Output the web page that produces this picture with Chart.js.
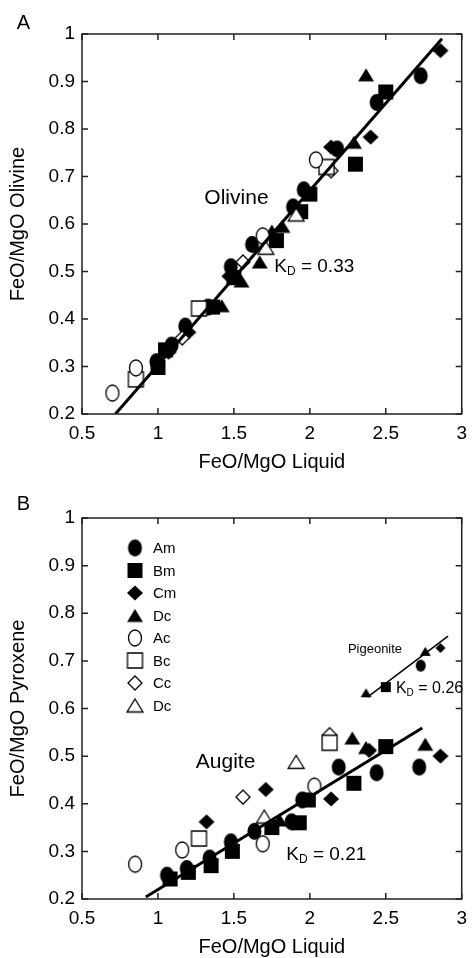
<!DOCTYPE html>
<html>
<head>
<meta charset="utf-8">
<script src="https://cdn.jsdelivr.net/npm/chart.js@4.4.0/dist/chart.umd.min.js"></script>
<style>
  html, body { margin: 0; padding: 0; background: #fff; }
  .panel { position: relative; width: 475px; height: 479px; }
</style>
</head>
<body>
<div class="panel"><canvas id="chartA"></canvas></div>
<div class="panel"><canvas id="chartB"></canvas></div>
<script>
// Axis ticks
const xTickValues = [0.5, 1, 1.5, 2, 2.5, 3];
const xTickLabels = ['0.5', '1', '1.5', '2', '2.5', '3'];
const yTickValues = [0.2, 0.3, 0.4, 0.5, 0.6, 0.7, 0.8, 0.9, 1];
const yTickLabels = ['0.2', '0.3', '0.4', '0.5', '0.6', '0.7', '0.8', '0.9', '1'];

// Legend entries (filled = melt, open = crystal)
const legendNames = ['Am', 'Bm', 'Cm', 'Dc', 'Ac', 'Bc', 'Cc', 'Dc'];

// Panel A: olivine, [FeO/MgO liquid, FeO/MgO olivine]
const oliAm = [[0.99, 0.31], [1.09, 0.345], [1.18, 0.385], [1.33, 0.425], [1.48, 0.51], [1.62, 0.557], [1.89, 0.636], [1.96, 0.672], [2.18, 0.758], [2.44, 0.856], [2.73, 0.912]];
const oliBm = [[1.0, 0.298], [1.05, 0.335], [1.36, 0.425], [1.5, 0.487], [1.78, 0.565], [1.94, 0.626], [2.0, 0.663], [2.3, 0.726], [2.5, 0.878]];
const oliCm = [[1.07, 0.33], [1.2, 0.372], [1.47, 0.49], [2.14, 0.762], [2.4, 0.783], [2.86, 0.965]];
const oliDm = [[1.42, 0.428], [1.55, 0.48], [1.67, 0.52], [1.75, 0.585], [1.82, 0.595], [2.29, 0.772], [2.37, 0.914]];
const oliAc = [[0.7, 0.244], [0.855, 0.297], [1.69, 0.575], [2.04, 0.735]];
const oliBc = [[0.855, 0.273], [1.27, 0.422], [2.11, 0.72]];
const oliCc = [[1.16, 0.36], [1.56, 0.52], [2.14, 0.712]];
const oliDc = [[1.71, 0.55], [1.91, 0.62]];
const oliFitX = [0.72, 2.87];
const oliFitY = [0.2, 0.99];

// Panel B: augite, [FeO/MgO liquid, FeO/MgO pyroxene]
const augAm = [[1.06, 0.25], [1.19, 0.264], [1.34, 0.286], [1.48, 0.32], [1.635, 0.342], [1.88, 0.362], [1.95, 0.408], [2.19, 0.477], [2.44, 0.465], [2.72, 0.477]];
const augBm = [[1.08, 0.242], [1.2, 0.256], [1.35, 0.27], [1.49, 0.3], [1.75, 0.35], [1.93, 0.36], [1.99, 0.408], [2.29, 0.443], [2.5, 0.52]];
const augCm = [[1.32, 0.362], [1.71, 0.43], [2.14, 0.41], [2.39, 0.512], [2.86, 0.5]];
const augDm = [[1.8, 0.366], [2.28, 0.538], [2.37, 0.518], [2.76, 0.525]];
const augAc = [[0.85, 0.273], [1.16, 0.303], [1.69, 0.316], [2.03, 0.437]];
const augBc = [[1.27, 0.327], [2.13, 0.528]];
const augCc = [[1.56, 0.414], [2.13, 0.545]];
const augDc = [[1.7, 0.373], [1.91, 0.488]];
const augFitX = [0.92, 2.74];
const augFitY = [0.204, 0.559];

// Panel B: pigeonite
const pigAm = [[2.73, 0.69]];
const pigBm = [[2.5, 0.645]];
const pigCm = [[2.86, 0.727]];
const pigDm = [[2.37, 0.633], [2.76, 0.72]];
const pigFitX = [2.38, 2.91];
const pigFitY = [0.624, 0.752];

const FONT = '"Liberation Sans", Arial, Helvetica, sans-serif';

// Marker images so circles can be slightly taller than wide, as in the print
function marker(shape, filled, w, h) {
    const c = document.createElement('canvas');
    const s = Math.ceil(Math.max(w, h)) + 4;
    c.width = s;
    c.height = s;
    const g = c.getContext('2d');
    const cx = s / 2, cy = s / 2;
    g.beginPath();
    if (shape === 'circle') {
        g.ellipse(cx, cy, w / 2, h / 2, 0, 0, Math.PI * 2);
    } else if (shape === 'square') {
        g.rect(cx - w / 2, cy - h / 2, w, h);
    } else if (shape === 'diamond') {
        g.moveTo(cx, cy - h / 2);
        g.lineTo(cx + w / 2, cy);
        g.lineTo(cx, cy + h / 2);
        g.lineTo(cx - w / 2, cy);
        g.closePath();
    } else {
        g.moveTo(cx, cy - h / 2);
        g.lineTo(cx + w / 2, cy + h / 2);
        g.lineTo(cx - w / 2, cy + h / 2);
        g.closePath();
    }
    if (filled) {
        g.fillStyle = '#000';
        g.fill();
    } else {
        g.fillStyle = '#fff';
        g.fill();
        g.lineWidth = 1.3;
        g.strokeStyle = '#000';
        g.stroke();
    }
    return c;
}

const markers = [
    marker('circle', true, 14, 17),
    marker('square', true, 15, 15),
    marker('diamond', true, 16, 15),
    marker('triangle', true, 16, 13),
    marker('circle', false, 13, 16),
    marker('square', false, 15, 15),
    marker('diamond', false, 14, 14),
    marker('triangle', false, 16, 13)
];
const smallMarkers = [
    marker('circle', true, 10, 12),
    marker('square', true, 10, 10),
    marker('diamond', true, 10, 10),
    marker('triangle', true, 11, 9)
];

function points(list, img, order) {
    return {
        type: 'scatter',
        data: list.map(p => ({ x: p[0], y: p[1] })),
        pointStyle: img,
        pointRadius: 6,
        pointHoverRadius: 6,
        order: order
    };
}

function fit(xs, ys, width) {
    return {
        type: 'line',
        data: xs.map((x, i) => ({ x: x, y: ys[i] })),
        borderColor: '#000',
        borderWidth: width,
        pointRadius: 0,
        fill: false,
        order: 0
    };
}

function capText(ctx, s, x, y, size, align) {
    ctx.font = size + 'px ' + FONT;
    ctx.textAlign = align;
    ctx.textBaseline = 'alphabetic';
    ctx.fillText(s, x, y + size * 0.358);
}

function kdText(ctx, value, x, y, size) {
    const sub = Math.round(size * 0.65);
    capText(ctx, 'K', x, y, size, 'left');
    let w = ctx.measureText('K').width;
    capText(ctx, 'D', x + w, y + size * 0.32, sub, 'left');
    w += ctx.measureText('D').width;
    capText(ctx, ' = ' + value, x + w, y, size, 'left');
}

// Box, inward ticks, titles and notes
const decorations = {
    id: 'decorations',
    afterDraw(chart, args, o) {
        const { ctx, chartArea: a, scales: { x, y } } = chart;
        ctx.save();
        ctx.strokeStyle = '#222';
        ctx.lineWidth = 1.5;
        ctx.strokeRect(a.left, a.top, a.right - a.left, a.bottom - a.top);
        ctx.beginPath();
        xTickValues.forEach(v => {
            const px = x.getPixelForValue(v);
            ctx.moveTo(px, a.bottom); ctx.lineTo(px, a.bottom - 6);
            ctx.moveTo(px, a.top); ctx.lineTo(px, a.top + 6);
        });
        yTickValues.forEach(v => {
            const py = y.getPixelForValue(v);
            ctx.moveTo(a.left, py); ctx.lineTo(a.left + 6, py);
            ctx.moveTo(a.right, py); ctx.lineTo(a.right - 6, py);
        });
        ctx.stroke();

        ctx.fillStyle = '#000';
        capText(ctx, o.panel, 23.5, o.panelY, 20, 'center');
        capText(ctx, 'FeO/MgO Liquid', (a.left + a.right) / 2, a.bottom + 47, 20, 'center');
        ctx.save();
        ctx.translate(17, (a.top + a.bottom) / 2);
        ctx.rotate(-Math.PI / 2);
        capText(ctx, o.yTitle, 0, 0, 20, 'center');
        ctx.restore();

        o.notes.forEach(n => {
            capText(ctx, n.text, x.getPixelForValue(n.x), y.getPixelForValue(n.y), n.size, 'center');
        });
        o.kd.forEach(k => {
            kdText(ctx, k.value, x.getPixelForValue(k.x), y.getPixelForValue(k.y), k.size);
        });

        if (o.legend) {
            legendNames.forEach((name, i) => {
                const my = a.top + 30 + i * 22.5;
                const img = markers[i];
                ctx.drawImage(img, a.left + 53 - img.width / 2, my - img.height / 2);
                capText(ctx, name, a.left + 71, my, 15, 'left');
            });
        }
        ctx.restore();
    }
};

function scales(xHeight) {
    return {
        x: {
            type: 'linear',
            min: 0.5,
            max: 3,
            afterFit: s => { s.height = xHeight; },
            afterBuildTicks: s => { s.ticks = xTickValues.map(v => ({ value: v })); },
            grid: { display: false, drawTicks: false },
            border: { display: false },
            ticks: {
                color: '#000',
                padding: 8,
                autoSkip: false,
                maxRotation: 0,
                font: { family: FONT, size: 19 },
                callback: (v, i) => xTickLabels[i]
            }
        },
        y: {
            type: 'linear',
            min: 0.2,
            max: 1,
            afterFit: s => { s.width = 82; },
            afterBuildTicks: s => { s.ticks = yTickValues.map(v => ({ value: v })); },
            grid: { display: false, drawTicks: false },
            border: { display: false },
            ticks: {
                color: '#000',
                padding: 7,
                autoSkip: false,
                font: { family: FONT, size: 19 },
                callback: (v, i) => yTickLabels[i]
            }
        }
    };
}

function baseOptions(top, xHeight, deco) {
    return {
        responsive: true,
        maintainAspectRatio: false,
        animation: false,
        layout: { padding: { top: top, right: 12, left: 0, bottom: 0 } },
        scales: scales(xHeight),
        plugins: {
            legend: { display: false },
            tooltip: { enabled: false },
            decorations: deco
        }
    };
}

new Chart(document.getElementById('chartA'), {
    type: 'scatter',
    data: {
        datasets: [
            fit(oliFitX, oliFitY, 3),
            points(oliAm, markers[0], 2), points(oliBm, markers[1], 2),
            points(oliCm, markers[2], 2), points(oliDm, markers[3], 2),
            points(oliAc, markers[4], 1), points(oliBc, markers[5], 1),
            points(oliCc, markers[6], 1), points(oliDc, markers[7], 1)
        ]
    },
    options: baseOptions(34, 65, {
        panel: 'A',
        panelY: 22,
        yTitle: 'FeO/MgO Olivine',
        notes: [{ text: 'Olivine', x: 1.517, y: 0.657, size: 21 }],
        kd: [{ value: '0.33', x: 1.766, y: 0.514, size: 19 }],
        legend: false
    }),
    plugins: [decorations]
});

new Chart(document.getElementById('chartB'), {
    type: 'scatter',
    data: {
        datasets: [
            fit(augFitX, augFitY, 3),
            fit(pigFitX, pigFitY, 1.5),
            points(augAm, markers[0], 2), points(augBm, markers[1], 2),
            points(augCm, markers[2], 2), points(augDm, markers[3], 2),
            points(augAc, markers[4], 1), points(augBc, markers[5], 1),
            points(augCc, markers[6], 1), points(augDc, markers[7], 1),
            points(pigAm, smallMarkers[0], 2), points(pigBm, smallMarkers[1], 2),
            points(pigCm, smallMarkers[2], 2), points(pigDm, smallMarkers[3], 2)
        ]
    },
    options: baseOptions(39, 59, {
        panel: 'B',
        panelY: 24,
        yTitle: 'FeO/MgO Pyroxene',
        notes: [
            { text: 'Augite', x: 1.445, y: 0.49, size: 21 },
            { text: 'Pigeonite', x: 2.429, y: 0.727, size: 13 }
        ],
        kd: [
            { value: '0.21', x: 1.845, y: 0.297, size: 19 },
            { value: '0.26', x: 2.567, y: 0.645, size: 16 }
        ],
        legend: true
    }),
    plugins: [decorations]
});
</script>
</body>
</html>
